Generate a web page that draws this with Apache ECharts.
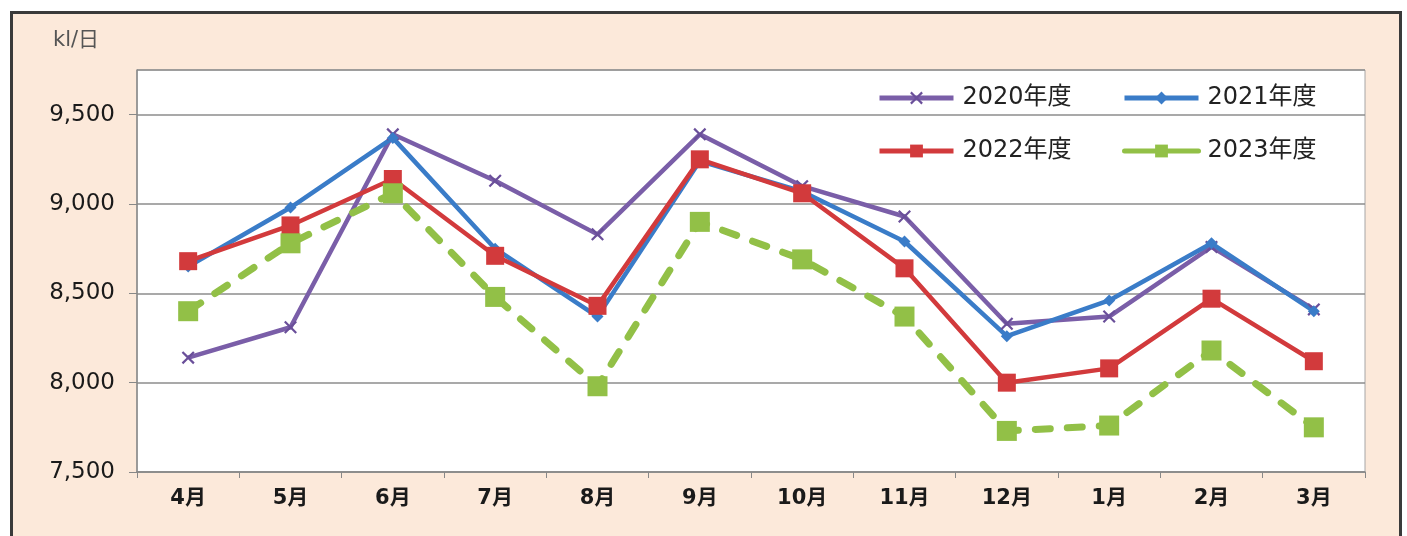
<!DOCTYPE html>
<html>
<head>
<meta charset="utf-8">
<script src="https://cdn.jsdelivr.net/npm/echarts@6/dist/echarts.min.js"></script>
<style>
  html, body { margin: 0; padding: 0; background: #fff; }
  .frame {
    position: absolute;
    left: 10px; top: 11px;
    width: 1386px; height: 540px;
    border: 3px solid #3a3a3a;
    background: #fce9da;
  }
  #chart {
    position: absolute;
    left: 0; top: 0;
    width: 1407px; height: 536px;
  }
</style>
</head>
<body>
<div class="frame"></div>
<div id="chart"></div>
<script>
// 月（年度順）
const months = ['4月', '5月', '6月', '7月', '8月', '9月', '10月', '11月', '12月', '1月', '2月', '3月']

// 配水量 kl/日
const fy2020 = [8140, 8310, 9390, 9130, 8830, 9390, 9100, 8930, 8330, 8370, 8760, 8410]
const fy2021 = [8650, 8980, 9370, 8750, 8370, 9240, 9070, 8790, 8260, 8460, 8780, 8400]
const fy2022 = [8680, 8880, 9140, 8710, 8430, 9250, 9060, 8640, 8000, 8080, 8470, 8120]
const fy2023 = [8400, 8780, 9060, 8480, 7980, 8900, 8690, 8370, 7730, 7760, 8180, 7750]

const yTicks = [7500, 8000, 8500, 9000, 9500]

const crossPath = 'path://M0,1.2L1.2,0L5,3.8L8.8,0L10,1.2L6.2,5L10,8.8L8.8,10L5,6.2L1.2,10L0,8.8L3.8,5Z'
const font = '"DejaVu Sans", "Noto Sans CJK JP", sans-serif'

const chart = echarts.init(document.getElementById('chart'))

function legendAt(name, left, top) {
  return {
    data: [name],
    left: left,
    top: top,
    orient: 'horizontal',
    itemWidth: 74,
    itemHeight: 16,
    itemGap: 0,
    padding: 0,
    lineStyle: { type: 'solid', width: 5 },
    textStyle: { fontSize: 24, color: '#222', fontFamily: font, padding: [0, 0, 0, 4] },
    selectedMode: false
  }
}

const option = {
  animation: false,
  backgroundColor: 'transparent',
  grid: {
    left: 137,
    right: 42,
    top: 70,
    bottom: 64,
    show: true,
    backgroundColor: '#fff',
    borderColor: '#a6a6a6',
    borderWidth: 1
  },
  graphic: [
    {
      type: 'text',
      left: 53,
      top: 30,
      style: { text: 'kl/日', fontSize: 21, fill: '#555', fontFamily: font }
    }
  ],
  legend: [
    legendAt('2020年度', 877, 86),
    legendAt('2021年度', 1122, 86),
    legendAt('2022年度', 877, 139),
    legendAt('2023年度', 1122, 139)
  ],
  xAxis: {
    type: 'category',
    data: months,
    boundaryGap: true,
    axisLine: { show: true, lineStyle: { color: '#888', width: 1.5 } },
    axisTick: { show: true, inside: false, length: 6, lineStyle: { color: '#888' } },
    axisLabel: { fontSize: 21, fontWeight: 'bold', color: '#1a1a1a', margin: 16, fontFamily: font }
  },
  yAxis: {
    type: 'value',
    min: yTicks[0],
    max: 9750,
    interval: 500,
    axisLine: { show: true, lineStyle: { color: '#888', width: 1.5 } },
    axisTick: { show: true, length: 8, lineStyle: { color: '#888' } },
    axisLabel: {
      fontSize: 23,
      color: '#1a1a1a',
      margin: 22,
      fontFamily: font,
      showMaxLabel: false,
      formatter: v => (yTicks.indexOf(v) >= 0 ? v.toLocaleString('en-US') : '')
    },
    splitLine: { show: true, lineStyle: { color: '#8c8c8c', width: 1.5 } }
  },
  series: [
    {
      name: '2020年度',
      type: 'line',
      data: fy2020,
      symbol: crossPath,
      symbolSize: 13,
      lineStyle: { color: '#7a5ea8', width: 4.5 },
      itemStyle: { color: '#6a4f9a' }
    },
    {
      name: '2021年度',
      type: 'line',
      data: fy2021,
      symbol: 'diamond',
      symbolSize: 12,
      lineStyle: { color: '#3a7cc8', width: 4.5 },
      itemStyle: { color: '#3a7cc8' }
    },
    {
      name: '2022年度',
      type: 'line',
      data: fy2022,
      symbol: 'rect',
      symbolSize: 18,
      lineStyle: { color: '#d23a3c', width: 4.5 },
      itemStyle: { color: '#d23a3c' }
    },
    {
      name: '2023年度',
      type: 'line',
      data: fy2023,
      symbol: 'rect',
      symbolSize: 20,
      lineStyle: { color: '#92c047', width: 7, type: [15, 17], cap: 'round' },
      itemStyle: { color: '#92c047' }
    }
  ]
}

option && chart.setOption(option)
</script>
</body>
</html>
